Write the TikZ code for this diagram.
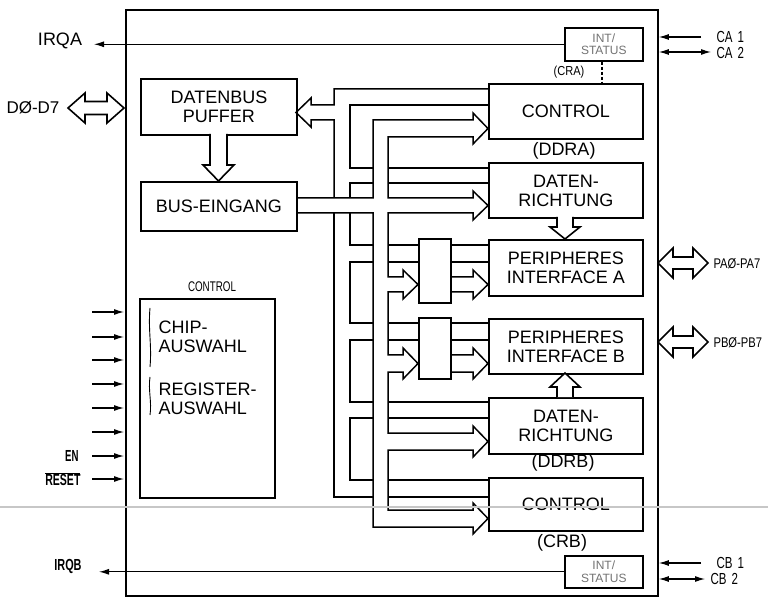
\documentclass[tikz,border=0pt]{standalone}
\usepackage{fontspec}
\setmainfont{Liberation Sans}
\usetikzlibrary{arrows.meta}
\newcommand{\cnd}[2][0.72]{\scalebox{#1}[1]{#2}}
\begin{document}
\begin{tikzpicture}[x=1pt,y=-1pt,
  box/.style={draw, line width=1.9pt, fill=white, inner sep=0pt, anchor=north west, align=center, font=\fontsize{18}{19}\selectfont},
  bus/.style={line width=1.5pt, line join=miter},
  sig/.style={line width=1.1pt},
  tip/.style={-{Latex[length=10pt,width=6pt]}},
  dtip/.style={{Latex[length=10pt,width=6pt]}-{Latex[length=10pt,width=6pt]}},
  small/.style={font=\fontsize{16}{16}\selectfont},
  big/.style={font=\fontsize{18}{19}\selectfont, align=center},
  hollow/.style={line width=1.6pt, fill=white, line join=miter}]

\useasboundingbox (0,0) rectangle (768,601);

% chip outline
\node[box, minimum width=532pt, minimum height=586pt] (chip) at (125,9) {};

% left blocks
\node[box, minimum width=156pt, minimum height=56pt] (puffer) at (140,78) {DATENBUS\\PUFFER};
\node[box, minimum width=156pt, minimum height=49pt] (buseing) at (140,181) {BUS-EINGANG};
\node[box, minimum width=135pt, minimum height=199pt] (ctrlL) at (139,298) {};
\node[small] (ctrlLlab) at (212,287) {\cnd[0.7]{\fontsize{14}{14}\selectfont CONTROL}};
\node[big, anchor=west, align=left] (chipaus) at (155,337) {CHIP-\\AUSWAHL};
\node[big, anchor=west, align=left] (regaus) at (155,399) {REGISTER-\\AUSWAHL};
\draw[line width=0.9pt] (150,308) .. controls (148,330) and (152,345) .. (150,367);
\draw[line width=0.9pt] (150,377) .. controls (148,390) and (152,402) .. (150,415);

% right blocks
\node[box, line width=1.6pt, minimum width=78pt, minimum height=33pt, font=\fontsize{12}{12.5}\selectfont, text=black!55] (intA) at (564,27) {INT/\\STATUS};
\node[box, minimum width=154pt, minimum height=55pt] (ctrlA) at (488,83) {CONTROL};
\node[box, minimum width=154pt, minimum height=55pt] (ddrA) at (488,162) {DATEN-\\RICHTUNG};
\node[box, minimum width=154pt, minimum height=56pt] (piaA) at (488,239) {PERIPHERES\\INTERFACE A};
\node[box, minimum width=154pt, minimum height=55pt] (piaB) at (488,318) {PERIPHERES\\INTERFACE B};
\node[box, minimum width=154pt, minimum height=56pt] (ddrB) at (488,397) {DATEN-\\RICHTUNG};
\node[box, minimum width=154pt, minimum height=53pt] (ctrlB) at (488,477) {CONTROL};
\node[box, line width=1.6pt, minimum width=78pt, minimum height=32pt, font=\fontsize{12}{12.5}\selectfont, text=black!55] (intB) at (564,555) {INT/\\STATUS};
\node[box, minimum width=32pt, minimum height=64pt] (muxA) at (418,238) {};
\node[box, minimum width=32pt, minimum height=61pt] (muxB) at (418,317) {};

\node[font=\fontsize{13}{13}\selectfont] (cra) at (569,72) {\cnd[0.85]{(CRA)}};
\node[big] (ddra) at (564,151) {(DDRA)};
\node[big] (ddrb) at (563,463) {(DDRB)};
\node[big] (crb) at (562,543) {(CRB)};
\draw[line width=1.2pt, densely dashed] (intA.south -| 602,0) -- (ctrlA.north -| 602,0);

% bus system: trunk 2 (inputs from BUS-EINGANG)
\draw[bus] (296,198) -- (373,198) -- (373,120) -- (473,120) -- (473,113) -- (488,128.5) -- (473,144) -- (473,137)
  -- (388,137) -- (388,198) -- (473,198) -- (473,191) -- (488,205.5) -- (473,220) -- (473,213)
  -- (388,213) -- (388,277) -- (403,277) -- (403,270) -- (418,284.5) -- (403,299) -- (403,292)
  -- (388,292) -- (388,355) -- (403,355) -- (403,348) -- (418,363.5) -- (403,379) -- (403,372)
  -- (388,372) -- (388,433) -- (473,433) -- (473,426) -- (488,441.5) -- (473,457) -- (473,450)
  -- (388,450) -- (388,510) -- (473,510) -- (473,503) -- (488,518.5) -- (473,534) -- (473,527)
  -- (373,527) -- (373,213) -- (296,213);

% bus system: trunk 1 (outputs to DATENBUS PUFFER)
\draw[bus] (488,89) -- (334,89) -- (334,105) -- (311,105) -- (311,98) -- (296,112.5) -- (311,127) -- (311,120) -- (334,120) -- (334,198);
\draw[bus] (334,213) -- (334,497) -- (373,497);
\draw[bus] (388,497) -- (488,497);
\draw[bus] (488,105) -- (350,105) -- (350,168) -- (373,168);
\draw[bus] (388,168) -- (488,168);
\draw[bus] (488,183) -- (388,183);
\draw[bus] (373,183) -- (350,183) -- (350,198);
\draw[bus] (350,213) -- (350,245) -- (373,245);
\draw[bus] (388,245) -- (418,245);
\draw[bus] (418,262) -- (388,262);
\draw[bus] (373,262) -- (350,262) -- (350,323) -- (373,323);
\draw[bus] (388,323) -- (418,323);
\draw[bus] (418,340) -- (388,340);
\draw[bus] (373,340) -- (350,340) -- (350,402) -- (373,402);
\draw[bus] (388,402) -- (488,402);
\draw[bus] (488,418) -- (388,418);
\draw[bus] (373,418) -- (350,418) -- (350,480) -- (373,480);
\draw[bus] (388,480) -- (488,480);

% mux -> peripheral interfaces
\draw[bus] (450,245) -- (488,245);
\draw[bus] (450,262) -- (488,262);
\draw[bus] (450,277) -- (473,277) -- (473,270) -- (488,284.5) -- (473,299) -- (473,292) -- (450,292);
\draw[bus] (450,323) -- (488,323);
\draw[bus] (450,340) -- (488,340);
\draw[bus] (450,355) -- (473,355) -- (473,348) -- (488,363.5) -- (473,379) -- (473,372) -- (450,372);

% hollow arrows between blocks
\draw[hollow] (210,134) -- (210,165) -- (203,165) -- (218.5,181) -- (234,165) -- (227,165) -- (227,134);
\draw[hollow] (557,217) -- (557,227) -- (550,227) -- (565,239) -- (580,227) -- (573,227) -- (573,217);
\draw[hollow] (557,397) -- (557,387) -- (550,387) -- (565,373) -- (580,387) -- (573,387) -- (573,397);

% external buses
\draw[hollow] (85,101.5) -- (107,101.5) -- (107,93) -- (124,108) -- (107,123) -- (107,114.5) -- (85,114.5) -- (85,123) -- (68,108) -- (85,93) -- cycle;
\node[font=\fontsize{17}{17}\selectfont] (dlab) at (33,108) {DØ-D7};
\draw[hollow] (673,257) -- (693,257) -- (693,248) -- (708,263) -- (693,278) -- (693,269) -- (673,269) -- (673,278) -- (658,263) -- (673,248) -- cycle;
\node[anchor=west, font=\fontsize{14}{14}\selectfont] (palab) at (710,264) {\cnd[0.8]{PAØ-PA7}};
\draw[hollow] (673,336) -- (693,336) -- (693,327) -- (708,342) -- (693,357) -- (693,348) -- (673,348) -- (673,357) -- (658,342) -- (673,327) -- cycle;
\node[anchor=west, font=\fontsize{14}{14}\selectfont] (pblab) at (710,343) {\cnd[0.8]{PBØ-PB7}};

% interrupt lines
\node[font=\fontsize{18}{18}\selectfont] (irqa) at (60,41) {IRQA};
\coordinate (irqaend) at (94,41);
\draw[sig,tip] (intA.west) -- (intA.west -| irqaend);
\node[small, font=\fontsize{16}{16}\bfseries] (irqb) at (68,566) {\cnd[0.68]{IRQB}};
\coordinate (irqbend) at (99,566);
\draw[sig,tip] (intB.west) -- (intB.west -| irqbend);

% control lines A / B
\coordinate (ca1s) at (701,37);
\coordinate (ca2s) at (711,52);
\draw[sig,tip] (ca1s) -- (ca1s -| chip.east);
\draw[sig,dtip] (ca2s -| chip.east) -- (ca2s);
\node[small, anchor=west] (ca1) at (713,37) {\cnd{CA\hspace{0.45em}1}};
\node[small, anchor=west] (ca2) at (713,53) {\cnd{CA\hspace{0.45em}2}};
\coordinate (cb1s) at (701,563);
\coordinate (cb2s) at (705,579);
\draw[sig,tip] (cb1s) -- (cb1s -| chip.east);
\draw[sig,dtip] (cb2s -| chip.east) -- (cb2s);
\node[small, anchor=west] (cb1) at (713,563) {\cnd{CB\hspace{0.45em}1}};
\node[small, anchor=west] (cb2) at (707,579) {\cnd{CB\hspace{0.45em}2}};

% select inputs
\foreach \yy in {312,337,360,384,408,432,456,479}
  \draw[sig,tip] (92,\yy) -- (124,\yy);
\node[small, font=\fontsize{16}{16}\bfseries, anchor=east] (en) at (82,456) {\cnd[0.6]{EN}};
\node[small, font=\fontsize{16}{16}\bfseries, anchor=east] (reset) at (84,479) {\cnd[0.66]{$\overline{\mbox{RESET}}$}};

% faint scan line
\draw[black!22, line width=1.3pt] (0,507) -- (768,507);
\end{tikzpicture}
\end{document}
